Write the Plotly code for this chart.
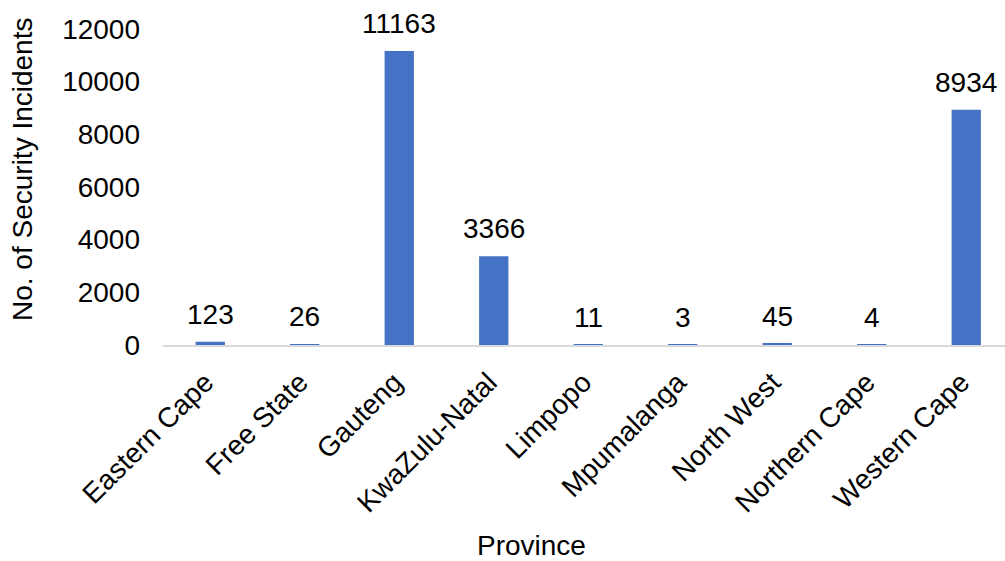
import plotly.graph_objects as go

provinces = ["Eastern Cape", "Free State", "Gauteng", "KwaZulu-Natal", "Limpopo",
             "Mpumalanga", "North West", "Northern Cape", "Western Cape"]
incidents = [123, 26, 11163, 3366, 11, 3, 45, 4, 8934]
y_ticks = [0, 2000, 4000, 6000, 8000, 10000, 12000]
y_tick_text = [str(t) for t in y_ticks]

FONT = "Liberation Sans, Arial, sans-serif"
BAR_COLOR = "#4472C4"

W, H = 1005, 561
L, R, T, B = 163, 0, 29, 216
pw, ph = W - L - R, H - T - B
cat_px = 94.5  # horizontal space per province


def px_to_paper(x_px, y_px):
    return (x_px - L) / pw, (H - y_px - B) / ph


fig = go.Figure()
fig.add_trace(go.Bar(
    x=list(range(len(provinces))),
    y=incidents,
    marker=dict(color=BAR_COLOR, line=dict(width=0)),
    hoverinfo="skip",
))

# value labels above each bar
for i, v in enumerate(incidents):
    fig.add_annotation(
        x=i, y=v, xref="x", yref="y",
        text=str(v), showarrow=False,
        yanchor="bottom", yshift=10,
        font=dict(family=FONT, size=28, color="black"),
    )

# axis titles
tx, ty = px_to_paper(22, 170)
fig.add_annotation(
    x=tx, y=ty, xref="paper", yref="paper", xanchor="center", yanchor="middle",
    text="No. of Security Incidents", showarrow=False, textangle=-90,
    font=dict(family=FONT, size=28, color="black"),
)
tx, ty = px_to_paper(531, 545)
fig.add_annotation(
    x=tx, y=ty, xref="paper", yref="paper", xanchor="center", yanchor="middle",
    text="Province", showarrow=False,
    font=dict(family=FONT, size=28, color="black"),
)

fig.update_layout(
    width=W, height=H,
    margin=dict(l=L, r=R, t=T, b=B, pad=0),
    plot_bgcolor="white", paper_bgcolor="white",
    showlegend=False,
    bargap=0.69,
    font=dict(family=FONT, size=28, color="black"),
    xaxis=dict(
        range=[-0.5, -0.5 + pw / cat_px],
        tickmode="array",
        tickvals=list(range(len(provinces))),
        ticktext=provinces,
        tickangle=-45,
        showgrid=False, zeroline=False,
        showline=True, linecolor="#d9d9d9", linewidth=1.5,
        ticks="", ticklabelstandoff=8, ticklabelshift=-5,
        tickfont=dict(family=FONT, size=28, color="black"),
    ),
    yaxis=dict(
        range=[0, 12000],
        tickmode="array", tickvals=y_ticks, ticktext=y_tick_text,
        showgrid=False, zeroline=False, showline=False,
        ticks="", ticklabelstandoff=22,
        tickfont=dict(family=FONT, size=28, color="black"),
    ),
)

fig.write_html("out.html")
